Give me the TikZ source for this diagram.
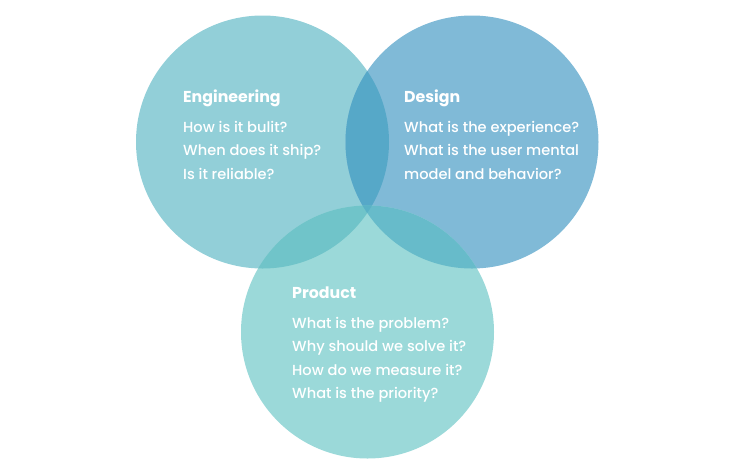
\documentclass[tikz,border=0pt]{standalone}
\usepackage{fontspec}
\setmainfont{Poppins}[FontFace={mb}{n}{Poppins Medium}]
\usepackage{tikz}
\usetikzlibrary{calc}
\newcommand{\unitsize}{1pt}
\newcommand{\radius}{126.5}
\definecolor{engcolor}{HTML}{92CFD8}
\definecolor{descolor}{HTML}{80BAD7}
\definecolor{procolor}{HTML}{9BD9D9}
\definecolor{engdes}{HTML}{56A8C8}
\definecolor{engpro}{HTML}{70C4C9}
\definecolor{despro}{HTML}{67BBCA}
\definecolor{alltrio}{HTML}{5AB2C6}
\newcommand{\makelens}[3]{
	\begin{scope}
	\clip (#1) circle (\radius);
	\fill[#3] (#2) circle (\radius);
	\end{scope}
}
\tikzset{
	title/.style={anchor=base west, inner sep=0pt, text=white, font=\fontsize{15.8}{18}\selectfont\bfseries},
	question/.style={anchor=base west, inner sep=0pt, text=white, font=\fontsize{14.6}{17}\fontseries{mb}\selectfont}
}

\begin{document}
\begin{tikzpicture}[x=\unitsize,y=-\unitsize]
	\useasboundingbox (0,0) rectangle (740,475);
	\coordinate (E) at (262.5,142);
	\coordinate (D) at (472,142);
	\coordinate (P) at (367.5,332);

	\fill[engcolor] (E) circle (\radius);
	\fill[descolor] (D) circle (\radius);
	\fill[procolor] (P) circle (\radius);

	\makelens{E}{D}{engdes}
	\makelens{E}{P}{engpro}
	\makelens{D}{P}{despro}
	\begin{scope}
	\clip (E) circle (\radius);
	\clip (D) circle (\radius);
	\fill[alltrio] (P) circle (\radius);
	\end{scope}

	% Engineering
	\node[title] (engtitle) at (183,102) {Engineering};
	\foreach \txt [count=\i] in {How is it bulit?, When does it ship?, Is it reliable?}
		\node[question] (eng\i) at ($(183,108.5)+(0,\i*23.5)$) {\txt};

	% Design
	\node[title] (destitle) at (404,102) {Design};
	\foreach \txt [count=\i] in {What is the experience?, What is the user mental, model and behavior?}
		\node[question] (des\i) at ($(404,108.5)+(0,\i*23.5)$) {\txt};

	% Product
	\node[title] (protitle) at (292,298) {Product};
	\foreach \txt [count=\i] in {What is the problem?, Why should we solve it?, How do we measure it?, What is the priority?}
		\node[question] (pro\i) at ($(292,304.5)+(0,\i*23.5)$) {\txt};
\end{tikzpicture}
\end{document}
